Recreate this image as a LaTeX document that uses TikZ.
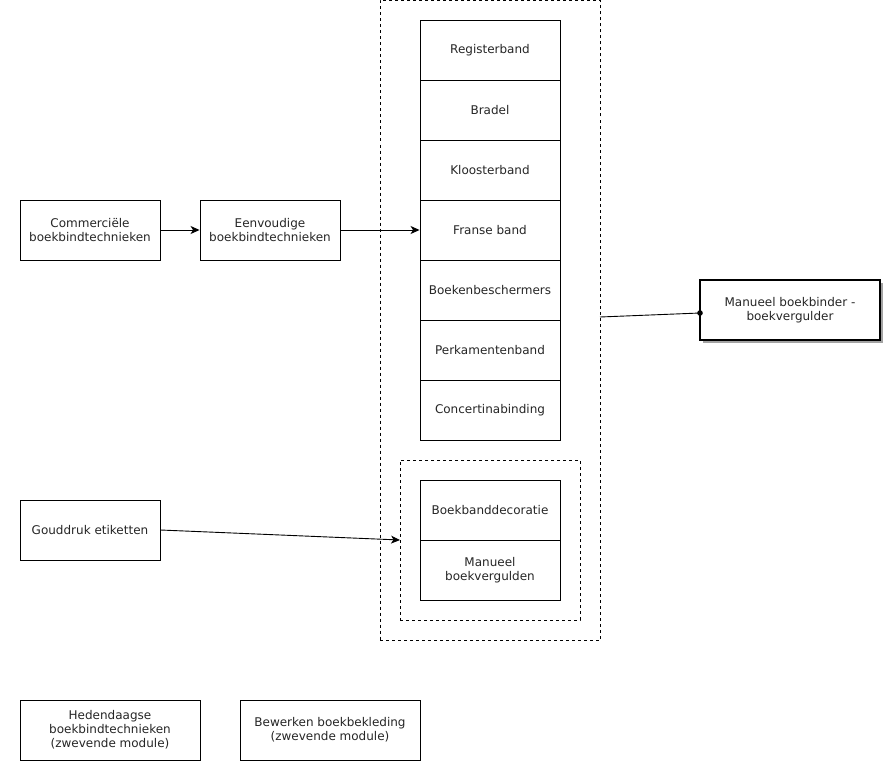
\documentclass[tikz,border=0pt]{standalone}
\usepackage{fontspec}
\setmainfont{DejaVu Sans}
\usetikzlibrary{arrows.meta,shadows}
\begin{document}
\begin{tikzpicture}[x=1pt,y=-1pt,
  box/.style={draw=black,line width=0.9pt,fill=white,align=center,font=\fontsize{12}{14}\selectfont,text=black!85,inner sep=0pt},
  grp/.style={draw=black,line width=0.8pt,dash pattern=on 3pt off 3pt},
  conn/.style={draw=black,line width=0.9pt,-{Stealth[length=9pt,width=8pt,inset=2.5pt]}}]
\useasboundingbox (0,0) rectangle (888,765);
\newcommand{\bx}[6]{\node[box,minimum width=#3 pt,minimum height=#4 pt,#6] (#1) at (#2) {#5};}
% groups
\node[grp,minimum width=220pt,minimum height=640pt,inner sep=0pt] (outer) at (490,320.5) {};
\node[grp,minimum width=180pt,minimum height=160pt,inner sep=0pt] (inner) at (490,540) {};
% left column
\bx{com}{90,230}{140}{60}{Commerciële\\boekbindtechnieken}{}
\bx{een}{270,230}{140}{60}{Eenvoudige\\boekbindtechnieken}{}
\bx{gou}{90,530}{140}{60}{Gouddruk etiketten}{}
\bx{hed}{110,730}{180}{60}{Hedendaagse\\boekbindtechnieken\\(zwevende module)}{}
\bx{bew}{330,730}{180}{60}{Bewerken boekbekleding\\(zwevende module)}{}
% stack
\bx{reg}{490,50}{140}{60}{Registerband}{}
\bx{bra}{490,110}{140}{60}{Bradel}{}
\bx{klo}{490,170}{140}{60}{Kloosterband}{}
\bx{fra}{490,230}{140}{60}{Franse band}{}
\bx{boe}{490,290}{140}{60}{Boekenbeschermers}{}
\bx{per}{490,350}{140}{60}{Perkamentenband}{}
\bx{con}{490,410}{140}{60}{Concertinabinding}{}
\bx{dec}{490,510}{140}{60}{Boekbanddecoratie}{}
\bx{mvg}{490,570}{140}{60}{Manueel\\boekvergulden}{}
% right node
\bx{mbb}{790,310}{180}{60}{Manueel boekbinder -\\boekvergulder}{line width=1.8pt,drop shadow={shadow xshift=3pt,shadow yshift=-3pt,fill=black!45,opacity=0.8}}
% connectors
\draw[conn] (com.east) -- (een.west);
\draw[conn] (een.east) -- (fra.west);
\coordinate (gin) at (400,540);
\draw[conn] (gou.east) -- (gin);
\coordinate (oout) at (600,317);
\coordinate (min) at (700,313);
\draw[line width=0.9pt] (oout) -- (min);
\fill (min) circle (2.8pt);
\end{tikzpicture}
\end{document}
